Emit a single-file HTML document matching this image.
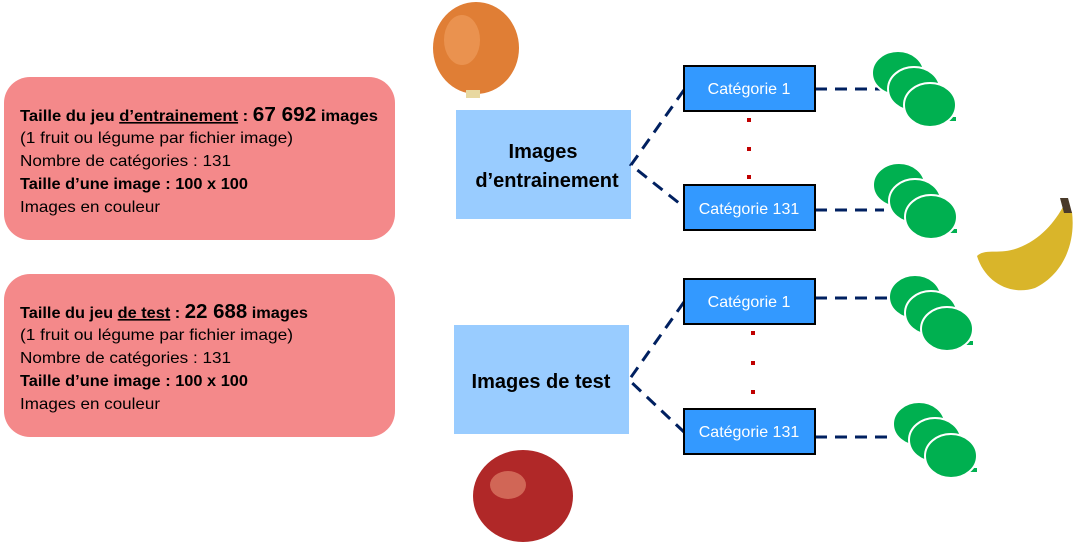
<!DOCTYPE html>
<html><head><meta charset="utf-8"><style>
html,body{margin:0;padding:0;background:#fff;}
svg{display:block;font-family:"Liberation Sans",sans-serif;}
</style></head><body>
<svg width="1076" height="548" viewBox="0 0 1076 548" xmlns="http://www.w3.org/2000/svg">
<defs>
<g id="bub">
  <ellipse cx="0" cy="0" rx="26" ry="22" fill="#00B050" stroke="#fff" stroke-width="2"/>
  <ellipse cx="16" cy="16" rx="26" ry="22" fill="#00B050" stroke="#fff" stroke-width="2"/>
  <path d="M40 44 L58 44 L58 48 L40 48 Z" fill="#00B050"/>
  <ellipse cx="32" cy="32" rx="26" ry="22" fill="#00B050" stroke="#fff" stroke-width="2"/>
</g>
</defs>
<rect x="4" y="77" width="391" height="163" rx="26" fill="#F4898A"/>
<rect x="4" y="274" width="391" height="163" rx="26" fill="#F4898A"/>
<g font-size="16" fill="#000" lengthAdjust="spacingAndGlyphs">
<text x="20" y="121" font-weight="bold" textLength="358" lengthAdjust="spacingAndGlyphs">Taille du jeu <tspan text-decoration="underline">d’entrainement</tspan> : <tspan font-size="20">67 692</tspan> images</text>
<text x="20" y="143" textLength="273" lengthAdjust="spacingAndGlyphs">(1 fruit ou légume par fichier image)</text>
<text x="20" y="166" textLength="211" lengthAdjust="spacingAndGlyphs">Nombre de catégories : 131</text>
<text x="20" y="189" font-weight="bold" textLength="228" lengthAdjust="spacingAndGlyphs">Taille d’une image : 100 x 100</text>
<text x="20" y="212" textLength="140" lengthAdjust="spacingAndGlyphs">Images en couleur</text>
<text x="20" y="318" font-weight="bold" textLength="288" lengthAdjust="spacingAndGlyphs">Taille du jeu <tspan text-decoration="underline">de test</tspan> : <tspan font-size="20">22 688</tspan> images</text>
<text x="20" y="340" textLength="273" lengthAdjust="spacingAndGlyphs">(1 fruit ou légume par fichier image)</text>
<text x="20" y="363" textLength="211" lengthAdjust="spacingAndGlyphs">Nombre de catégories : 131</text>
<text x="20" y="386" font-weight="bold" textLength="228" lengthAdjust="spacingAndGlyphs">Taille d’une image : 100 x 100</text>
<text x="20" y="409" textLength="140" lengthAdjust="spacingAndGlyphs">Images en couleur</text>
</g>
<rect x="456" y="110" width="175" height="109" fill="#99CCFF"/>
<rect x="454" y="325" width="175" height="109" fill="#99CCFF"/>
<g font-size="20" font-weight="bold" text-anchor="middle" fill="#000">
<text x="543" y="158">Images</text>
<text x="547" y="187">d’entrainement</text>
<text x="541" y="388">Images de test</text>
</g>
<g stroke="#002060" stroke-width="3" stroke-dasharray="12,8" fill="none">
<path d="M684 90 L631 165 L684 207"/>
<path d="M684 302 L629 380 L684 432"/>
<path d="M815 89 L884 89"/>
<path d="M815 210 L884 210"/>
<path d="M815 298 L890 298"/>
<path d="M815 437 L893 437"/>
</g>
<g stroke="#000" stroke-width="2" fill="#3399FF">
<rect x="684" y="66" width="131" height="45"/>
<rect x="684" y="185" width="131" height="45"/>
<rect x="684" y="279" width="131" height="45"/>
<rect x="684" y="409" width="131" height="45"/>
</g>
<g font-size="16" fill="#fff" text-anchor="middle">
<text x="749" y="94">Catégorie 1</text>
<text x="749" y="214">Catégorie 131</text>
<text x="749" y="307">Catégorie 1</text>
<text x="749" y="437">Catégorie 131</text>
</g>
<g fill="#C00000">
<rect x="747" y="118" width="4" height="4"/><rect x="747" y="147" width="4" height="4"/><rect x="747" y="175" width="4" height="4"/>
<rect x="751" y="331" width="4" height="4"/><rect x="751" y="361" width="4" height="4"/><rect x="751" y="390" width="4" height="4"/>
</g>
<use href="#bub" x="898" y="73"/>
<use href="#bub" x="899" y="185"/>
<use href="#bub" x="915" y="297"/>
<use href="#bub" x="919" y="424"/>
<ellipse cx="476" cy="48" rx="43" ry="46" fill="#E07E35"/>
<ellipse cx="462" cy="40" rx="18" ry="25" fill="#F0A060" opacity="0.6"/>
<rect x="466" y="90" width="14" height="8" fill="#E8D8A0"/>
<path d="M977 256 C985 248 1000 255 1018 248 C1040 240 1055 222 1064 205 L1072 212 C1076 245 1062 275 1035 288 C1010 296 985 282 977 256 Z" fill="#D9B52A"/>
<path d="M1060 198 L1068 198 L1072 213 L1064 213 Z" fill="#4a3a2a"/>
<ellipse cx="523" cy="496" rx="50" ry="46" fill="#B02828"/>
<ellipse cx="508" cy="485" rx="18" ry="14" fill="#E0806A" opacity="0.7"/>
</svg>
</body></html>
